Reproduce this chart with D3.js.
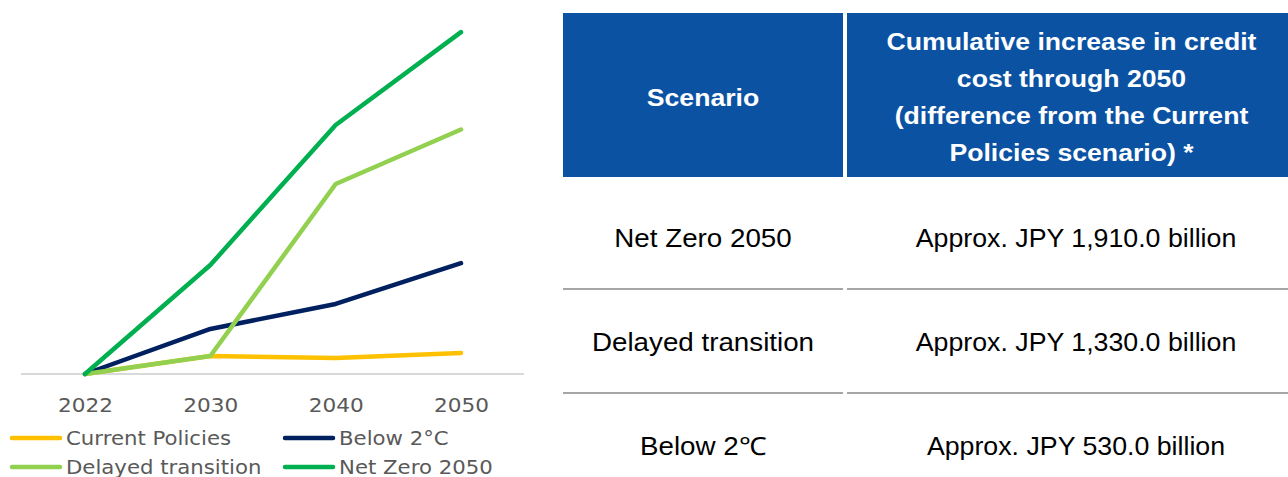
<!DOCTYPE html>
<html><head><meta charset="utf-8">
<script src="https://cdn.jsdelivr.net/npm/d3@7"></script>
<style>body{margin:0;background:#fff;}svg{display:block;}</style>
</head><body>
<svg id="c" width="1288" height="477"></svg>
<script>
// ---- data (billion JPY, cumulative credit cost increase) ----
const years = ["2022", "2030", "2040", "2050"];
const currentPolicies = [0, 107, 95, 125];
const below2C = [0, 268, 417, 660];
const delayedTransition = [0, 107, 1131, 1455];
const netZero2050 = [0, 649, 1482, 2035];
const seriesNames = ["Current Policies", "Below 2°C", "Delayed transition", "Net Zero 2050"];
const seriesColors = ["#FFC000", "#002060", "#92D050", "#00B050"];

const tableHeader = ["Scenario", "Cumulative increase in credit|cost through 2050|(difference from the Current|Policies scenario) *"];
const tableScenarios = ["Net Zero 2050", "Delayed transition", "Below 2\u2103"];
const tableValues = ["Approx. JPY 1,910.0 billion", "Approx. JPY 1,330.0 billion", "Approx. JPY 530.0 billion"];

const svg = d3.select("#c");

// ---- line chart ----
const x = d3.scalePoint().domain(years).range([85, 461]);
const y = d3.scaleLinear().domain([0, 2200]).range([374, 4.4]);

svg.append("line").attr("x1", 21).attr("x2", 524).attr("y1", y(0)).attr("y2", y(0))
  .attr("stroke", "#D9D9D9").attr("stroke-width", 2);

const xAxis = svg.append("g").attr("transform", `translate(0,${y(0)})`)
  .call(d3.axisBottom(x).tickSize(0).tickPadding(24));
xAxis.select(".domain").remove();
xAxis.selectAll("text").attr("font-family", "Verdana, 'DejaVu Sans', sans-serif")
  .attr("font-size", 20).attr("fill", "#595959").attr("transform", "scale(1.08,1)");

const allSeries = [currentPolicies, below2C, delayedTransition, netZero2050];
const line = d3.line().x((d, i) => x(years[i])).y(d => y(d));
allSeries.forEach((s, i) => {
  svg.append("path").datum(s).attr("d", line).attr("fill", "none")
    .attr("stroke", seriesColors[i]).attr("stroke-width", 4.5)
    .attr("stroke-linejoin", "round").attr("stroke-linecap", "round");
});

// legend
const legendPos = [[12, 438], [285, 438], [12, 467], [285, 467]];
seriesNames.forEach((n, i) => {
  const [lx, ly] = legendPos[i];
  const g = svg.append("g").attr("transform", `translate(${lx},${ly})`);
  g.append("line").attr("x1", 0).attr("x2", 48).attr("y1", 0).attr("y2", 0)
    .attr("stroke", seriesColors[i]).attr("stroke-width", 4.5).attr("stroke-linecap", "round");
  g.append("text").attr("transform", "translate(54,0) scale(1.09,1)").attr("dy", "0.35em")
    .attr("font-family", "Verdana, 'DejaVu Sans', sans-serif").attr("font-size", 19.5)
    .attr("fill", "#595959").text(n);
});

// ---- table ----
const col = [[563, 843], [847, 1288]];
const headTop = 13, headBot = 177;
const rowH = 104;
const font = "Arial, 'Liberation Sans', sans-serif";

function txt(x0, y0, t, size, weight, fill, sx) {
  svg.append("text").attr("transform", `translate(${x0},${y0}) scale(${sx},1)`)
    .attr("dy", "0.35em").attr("text-anchor", "middle")
    .attr("font-family", font).attr("font-weight", weight).attr("font-size", size)
    .attr("fill", fill).text(t);
}

col.forEach((c, i) => {
  svg.append("rect").attr("x", c[0]).attr("y", headTop).attr("width", c[1] - c[0])
    .attr("height", headBot - headTop).attr("fill", "#0B52A3");
  const lines = tableHeader[i].split("|");
  const cx = (c[0] + c[1]) / 2 + (i === 1 ? 4 : 0), cy = 97.5;
  const lh = 37;
  lines.forEach((t, k) => txt(cx, cy + (k - (lines.length - 1) / 2) * lh, t, 24, "bold", "#fff", 1.11));
});

tableScenarios.forEach((s, r) => {
  const cy = 238 + r * rowH;
  txt((col[0][0] + col[0][1]) / 2, cy, s, 25, "normal", "#000", 1.11);
  txt(1076, cy, tableValues[r], 25, "normal", "#000", 1.07);
  if (r < tableScenarios.length - 1) {
    const ly = 289 + r * rowH;
    col.forEach(c => {
      svg.append("line").attr("x1", c[0]).attr("x2", c[1]).attr("y1", ly).attr("y2", ly)
        .attr("stroke", "#A6A6A6").attr("stroke-width", 2);
    });
  }
});
</script>
</body></html>
